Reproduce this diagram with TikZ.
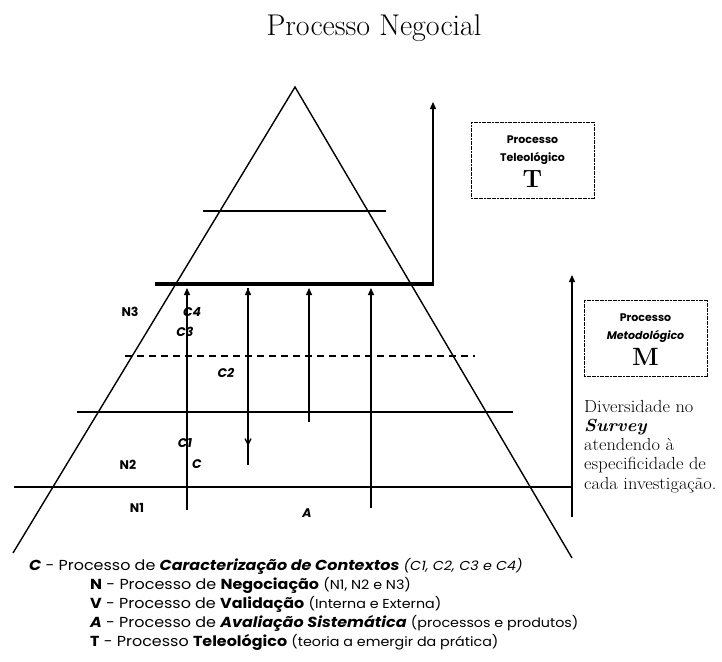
\documentclass[tikz,border=0pt]{standalone}
\usepackage{fontspec}
\newfontfamily\comic{Poppins}
\usetikzlibrary{arrows.meta}
\begin{document}
\begin{tikzpicture}[x=1pt,y=-1pt,
  edge/.style={line width=1.4pt},
  hline/.style={line width=1.8pt},
  thickline/.style={line width=4.5pt},
  arr/.style={line width=1.3pt,-{Triangle[width=6pt,length=7pt]}},
  varr/.style={line width=1.3pt,-{Straight Barb[width=6pt,length=6pt]}},
  lbl/.style={font=\comic\bfseries\fontsize{12.5}{12.5}\selectfont,inner sep=0pt},
  ilbl/.style={font=\comic\bfseries\itshape\fontsize{12.5}{12.5}\selectfont,inner sep=0pt},
  pbox/.style={draw,line width=0.9pt,dash pattern=on 2pt off 0.6pt,minimum width=123pt,minimum height=76pt,inner sep=0pt},
  boxtxt/.style={font=\comic\bfseries\fontsize{11}{11}\selectfont,inner sep=0pt},
  boxletter/.style={font=\bfseries\fontsize{25}{25}\selectfont,inner sep=0pt},
  legend/.style={font=\comic\fontsize{14.5}{14.5}\selectfont,anchor=west,inner sep=0pt}
]
\useasboundingbox (0,0) rectangle (722,661);
\newcommand\paren[1]{{\fontsize{13}{13}\selectfont #1}}
\newcommand\lrow[1]{\scalebox{1.1}[1]{#1}}
% title
\node[font=\fontsize{30}{30}\selectfont,anchor=base,inner sep=0pt] (title) at (374,36) {Processo Negocial};
% triangle
\coordinate (apex) at (295,87);
\coordinate (tl) at (13,553);
\coordinate (tr) at (572,558);
\draw[edge] (tl) -- (apex) -- (tr);
% horizontals
\coordinate (h1a) at (203,211); \coordinate (h1b) at (386,211);
\coordinate (h2a) at (155,284); \coordinate (h2b) at (434,284);
\coordinate (h3a) at (125,356); \coordinate (h3b) at (475,356);
\coordinate (h4a) at (77,412);  \coordinate (h4b) at (513,412);
\coordinate (h5a) at (14,487);  \coordinate (h5b) at (572,487);
\draw[hline] (h1a) -- (h1b);
\draw[thickline] (h2a) -- (h2b);
\draw[hline,dash pattern=on 7pt off 5pt] (h3a) -- (h3b);
\draw[hline] (h4a) -- (h4b);
\draw[hline] (h5a) -- (h5b);
% T and M arrows
\coordinate (tbase) at (433,286); \coordinate (ttip) at (433,102);
\draw[arr] (tbase) -- (ttip);
\coordinate (mbase) at (572,517); \coordinate (mtip) at (572,275);
\draw[arr] (mbase) -- (mtip);
% inner arrows
\coordinate (a1b) at (187,510); \coordinate (a1t) at (187,288);
\coordinate (a2b) at (248,465); \coordinate (a2t) at (248,288); \coordinate (a2m) at (248,446);
\coordinate (a3b) at (309,422); \coordinate (a3t) at (309,288);
\coordinate (a4b) at (371,508); \coordinate (a4t) at (371,288);
\draw[arr] (a1b) -- (a1t);
\draw[arr] (a2b) -- (a2t);
\draw[varr] (a2t) -- (a2m);
\draw[arr] (a3b) -- (a3t);
\draw[arr] (a4b) -- (a4t);
% boxes
\node[pbox] (tbox) at (532.5,160) {};
\node[boxtxt] (tb1) at (532.5,140) {Processo};
\node[boxtxt] (tb2) at (532.5,158) {Teleológico};
\node[boxletter] (tb3) at (532.5,179) {T};
\node[pbox] (mbox) at (645.5,338.5) {};
\node[boxtxt] (mb1) at (645.5,318) {Processo};
\node[boxtxt,font=\comic\bfseries\itshape\fontsize{11}{11}\selectfont] (mb2) at (645.5,336) {Metodológico};
\node[boxletter] (mb3) at (645.5,357) {M};
% diversidade text
\node[anchor=north west,inner sep=0pt] (div) at (584,400)
 {\scalebox{1.05}[1]{\parbox[t]{128pt}{\raggedright\fontsize{17.5}{19.2}\selectfont Diversidade no\\ \textbf{\textit{Survey}}\\ atendendo à\\ especificidade de\\ cada investigação.}}};
% labels
\node[lbl] (n3) at (130,312) {N3};
\node[ilbl] (c4) at (192,312) {C4};
\node[ilbl] (c3) at (185,332) {C3};
\node[ilbl] (c2) at (226,373) {C2};
\node[ilbl] (c1) at (185,443) {C1};
\node[ilbl] (c0) at (197,464) {C};
\node[lbl] (n2) at (128,465) {N2};
\node[lbl] (n1) at (137,508) {N1};
\node[ilbl] (aa) at (307,513) {A};
% legend
\node[legend] (lc) at (29,566) {\lrow{\textbf{\textit{C}} - Processo de \textbf{\textit{Caracterização de Contextos}} \paren{\itshape(C1, C2, C3 e C4)}}};
\node[legend] (ln) at (90,585) {\lrow{\textbf{N} - Processo de \textbf{Negociação} \paren{(N1, N2 e N3)}}};
\node[legend] (lv) at (90,604) {\lrow{\textbf{V} - Processo de \textbf{Validação} \paren{(Interna e Externa)}}};
\node[legend] (la) at (90,623) {\lrow{\textbf{\textit{A}} - Processo de \textbf{\textit{Avaliação Sistemática}} \paren{(processos e produtos)}}};
\node[legend] (lt) at (90,642) {\lrow{\textbf{T} - Processo \textbf{Teleológico} \paren{(teoria a emergir da prática)}}};
\end{tikzpicture}
\end{document}
